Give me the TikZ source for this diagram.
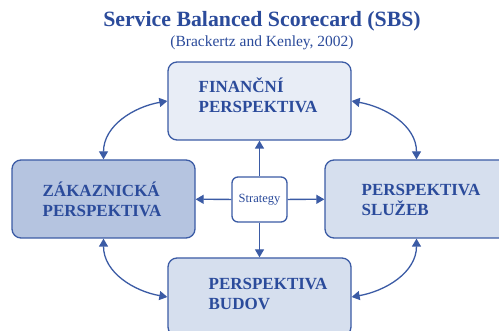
\documentclass[tikz,border=0pt]{standalone}
\usepackage{fontspec}
\setmainfont{Liberation Serif}
\usetikzlibrary{arrows.meta}
\definecolor{sbsblue}{HTML}{2B4B9B}
\definecolor{sbsline}{HTML}{3B5BA5}
\definecolor{fillA}{HTML}{E8EDF6}
\definecolor{fillB}{HTML}{B5C4E0}
\definecolor{fillC}{HTML}{D6DFEE}
\tikzset{
  persp/.style={draw=sbsline, line width=1.3pt, rounded corners=9pt,
    minimum width=183pt, minimum height=78pt, inner sep=0pt},
  ptext/.style={align=left, text=sbsblue, inner sep=0pt,
    font=\fontsize{17}{20}\selectfont\bfseries},
  stratbox/.style={draw=sbsline, line width=1.3pt, rounded corners=6pt, fill=white,
    minimum width=55pt, minimum height=45pt, inner sep=0pt, text=sbsblue,
    font=\fontsize{12.5}{14}\selectfont},
  conn/.style={draw=sbsline, line width=1.3pt, -{Triangle[length=8pt,width=9pt]}},
  dconn/.style={draw=sbsline, line width=1.3pt, {Triangle[length=8pt,width=9pt]}-{Triangle[length=8pt,width=9pt]}}
}
\begin{document}
\begin{tikzpicture}[x=1pt,y=-1pt]
\clip (0,0) rectangle (499,331);
\fill[white] (0,0) rectangle (499,331);
\node[text=sbsblue, font=\fontsize{21.8}{26}\selectfont\bfseries] (title) at (262,21) {Service Balanced Scorecard (SBS)};
\node[text=sbsblue, font=\fontsize{15.5}{18}\selectfont] (sub) at (262,43) {(Brackertz and Kenley, 2002)};
\node[persp, fill=fillA] (fin) at (259.5,101) {};
\node[persp, fill=fillB] (zak) at (103.5,199) {};
\node[persp, fill=fillC] (slu) at (416.5,199) {};
\node[persp, fill=fillC] (bud) at (259.5,297) {};
\node[ptext] (fintxt) at (258,95) {FINANČNÍ\\PERSPEKTIVA};
\node[ptext] (zaktxt) at (102,199.5) {ZÁKAZNICKÁ\\PERSPEKTIVA};
\node[ptext] (slutxt) at (421,199.5) {PERSPEKTIVA\\SLUŽEB};
\node[ptext] (budtxt) at (268,294.5) {PERSPEKTIVA\\BUDOV};
\node[stratbox] (str) at (259.5,199.5) {Strategy};
\draw[conn] (str) -- (fin);
\draw[conn] (str) -- (bud);
\draw[conn] (str) -- (zak);
\draw[conn] (str) -- (slu);
\draw[dconn] (zak.north) to[out=90,in=190] (fin.west);
\draw[dconn] (slu.north) to[out=90,in=-10] (fin.east);
\draw[dconn] (zak.south) to[out=-90,in=170] (bud.west);
\draw[dconn] (slu.south) to[out=-90,in=10] (bud.east);
\end{tikzpicture}
\end{document}
